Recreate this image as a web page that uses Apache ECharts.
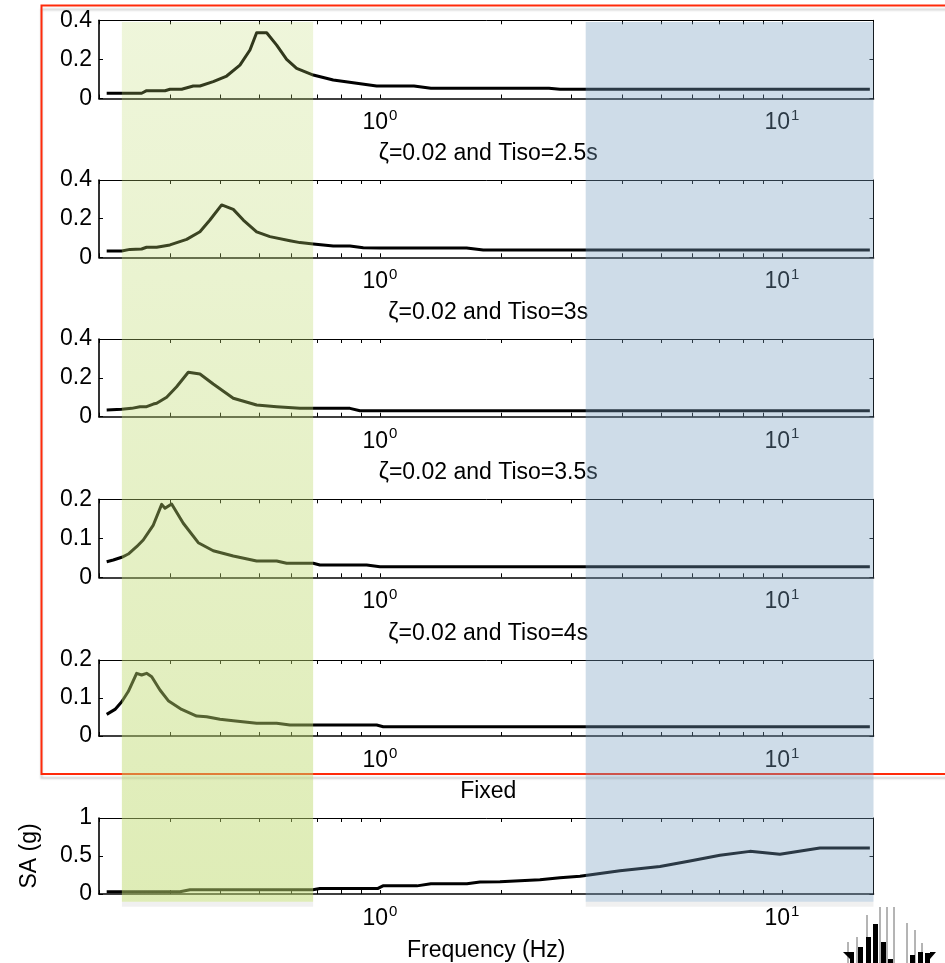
<!DOCTYPE html>
<html>
<head>
<meta charset="utf-8">
<script src="https://cdn.jsdelivr.net/npm/echarts@6/dist/echarts.min.js"></script>
<style>
  html, body { margin: 0; padding: 0; background: #ffffff; }
  #chart { width: 945px; height: 963px; }
</style>
</head>
<body>
<div id="chart"></div>
<script>
// Spectral acceleration (g) versus frequency (Hz), one series per isolation period
const freqTiso2 = [0.209, 0.2553, 0.2627, 0.2919, 0.3003, 0.3211, 0.3432, 0.3566, 0.3848, 0.4156, 0.4484, 0.4749, 0.4934, 0.5226, 0.5534, 0.5859, 0.6205, 0.6825, 0.7652, 0.9813, 1.215, 1.339, 2.633, 2.804, 16.55];
const saTiso2   = [0.027, 0.027, 0.040, 0.040, 0.047, 0.047, 0.064, 0.064, 0.086, 0.115, 0.171, 0.248, 0.336, 0.336, 0.273, 0.200, 0.154, 0.120, 0.095, 0.064, 0.064, 0.052, 0.052, 0.047, 0.047];

const freqTiso25 = [0.209, 0.2278, 0.2388, 0.2553, 0.2627, 0.2783, 0.3003, 0.3304, 0.3566, 0.3776, 0.4038, 0.4316, 0.4571, 0.4934, 0.5325, 0.5971, 0.6324, 0.6825, 0.7652, 0.8422, 0.9089, 1.0, 1.643, 1.807, 16.55];
const saTiso25   = [0.033, 0.033, 0.041, 0.043, 0.052, 0.052, 0.064, 0.093, 0.132, 0.193, 0.271, 0.248, 0.193, 0.132, 0.107, 0.086, 0.076, 0.069, 0.058, 0.058, 0.050, 0.048, 0.048, 0.038, 0.038];

const freqTiso3 = [0.209, 0.2278, 0.2411, 0.2529, 0.2627, 0.2730, 0.2783, 0.2947, 0.3120, 0.3335, 0.3566, 0.3848, 0.4316, 0.4934, 0.5534, 0.6324, 0.8422, 0.8917, 16.55];
const saTiso3   = [0.0345, 0.038, 0.043, 0.0515, 0.0515, 0.065, 0.069, 0.100, 0.154, 0.229, 0.220, 0.168, 0.095, 0.060, 0.0515, 0.043, 0.043, 0.031, 0.031];

const freqTiso35 = [0.209, 0.2171, 0.2278, 0.2365, 0.2481, 0.2577, 0.2730, 0.2864, 0.2919, 0.3032, 0.3241, 0.3532, 0.3848, 0.4316, 0.4934, 0.5534, 0.5859, 0.6825, 0.7090, 0.9267, 1.0, 16.55];
const saTiso35   = [0.040, 0.0444, 0.0513, 0.0597, 0.0785, 0.0956, 0.134, 0.187, 0.177, 0.188, 0.1385, 0.0887, 0.068, 0.0546, 0.0418, 0.0418, 0.0359, 0.0359, 0.0315, 0.0315, 0.0272, 0.0272];

const freqTiso4 = [0.209, 0.2192, 0.2278, 0.2365, 0.2481, 0.2553, 0.2627, 0.2705, 0.2836, 0.2974, 0.3211, 0.3499, 0.3705, 0.3999, 0.4316, 0.4934, 0.5534, 0.5971, 0.9813, 1.019, 16.55];
const saTiso4   = [0.057, 0.070, 0.090, 0.117, 0.165, 0.1605, 0.165, 0.156, 0.121, 0.093, 0.070, 0.0526, 0.0508, 0.044, 0.040, 0.0334, 0.0334, 0.029, 0.029, 0.0245, 0.0245];

const freqFixed = [0.209, 0.318, 0.3368, 0.6813, 0.709, 0.9886, 1.0173, 1.236, 1.339, 1.646, 1.773, 1.989, 2.230, 2.500, 2.804, 3.145, 3.955, 4.973, 5.904, 7.013, 8.326, 9.886, 12.43, 16.55];
const saFixed   = [0.030, 0.030, 0.056, 0.056, 0.073, 0.073, 0.107, 0.107, 0.136, 0.136, 0.158, 0.162, 0.175, 0.1875, 0.213, 0.235, 0.306, 0.362, 0.434, 0.510, 0.561, 0.523, 0.605, 0.605];

const panelTitles = ['', 'ζ=0.02 and Tiso=2.5s', 'ζ=0.02 and Tiso=3s', 'ζ=0.02 and Tiso=3.5s', 'ζ=0.02 and Tiso=4s', 'Fixed'];
const yMaxes = [0.4, 0.4, 0.4, 0.2, 0.2, 1];
const yIntervals = [0.2, 0.2, 0.2, 0.1, 0.1, 0.5];

// Frequency axis: range, labelled decades and minor tick positions
const freqMin = 0.2;
const freqMax = 16.9;
const freqLabelValues = [1, 10];
const freqTickValues = [0.2, 0.3, 0.4, 0.5, 0.6, 0.7, 0.8, 0.9, 1, 2, 3, 4, 5, 6, 7, 8, 9, 10];

// Shaded frequency ranges
const lowBand = [0.228, 0.682];
const highBand = [3.25, 16.9];

const seriesFreq = [freqTiso2, freqTiso25, freqTiso3, freqTiso35, freqTiso4, freqFixed];
const seriesSA = [saTiso2, saTiso25, saTiso3, saTiso35, saTiso4, saFixed];

// ---- layout ----
const FONT = "'Liberation Sans', Arial, Helvetica, sans-serif";
const FS = 23;
const plotLeft = 99;
const plotWidth = 774.5;
const panelTops = [20.3, 180, 339, 499.3, 660, 818];
const panelBottoms = [98.5, 257.3, 416.7, 577.3, 736, 896.7];

const grids = [];
const xAxes = [];
const yAxes = [];
const series = [];
const titles = [];

function freqAxis(gridIndex, position, withLabels, extra) {
  return Object.assign({
    type: 'log',
    logBase: 10,
    gridIndex: gridIndex,
    position: position,
    min: freqMin,
    max: freqMax,
    axisLine: { show: true, onZero: false, lineStyle: { color: '#000', width: position === 'bottom' ? 1.6 : 1 } },
    axisTick: { show: true, inside: true, length: 4, customValues: freqTickValues, lineStyle: { color: '#000', width: 1 } },
    minorTick: { show: false },
    splitLine: { show: false },
    axisLabel: {
      show: withLabels,
      customValues: freqLabelValues,
      margin: 10,
      formatter: function (v) { return '{b|10}{s|' + Math.round(Math.log10(v)) + '}'; },
      rich: {
        b: { fontSize: FS, fontFamily: FONT, color: '#000', verticalAlign: 'bottom' },
        s: { fontSize: 15, fontFamily: FONT, color: '#000', verticalAlign: 'bottom', padding: [0, 0, 11, 1] }
      }
    }
  }, extra || {});
}

function saAxis(gridIndex, i, position, withLabels, extra) {
  return Object.assign({
    type: 'value',
    gridIndex: gridIndex,
    position: position,
    min: 0,
    max: yMaxes[i],
    interval: yIntervals[i],
    axisLine: { show: true, onZero: false, lineStyle: { color: '#000', width: position === 'left' ? 1.6 : 1 } },
    axisTick: { show: true, inside: true, length: 4, lineStyle: { color: '#000', width: 1 } },
    splitLine: { show: false },
    axisLabel: {
      show: withLabels,
      margin: 7,
      fontSize: FS,
      fontFamily: FONT,
      color: '#000',
      formatter: function (v) { return String(+v.toFixed(2)); }
    }
  }, extra || {});
}

for (let i = 0; i < 6; i++) {
  grids.push({ left: plotLeft, width: plotWidth, top: panelTops[i], height: panelBottoms[i] - panelTops[i] });
  const isLast = i === 5;
  xAxes.push(freqAxis(i, 'bottom', true, isLast ? {
    name: 'Frequency (Hz)', nameLocation: 'middle', nameGap: 45,
    nameTextStyle: { fontSize: FS, fontFamily: FONT, color: '#000' }
  } : {}));
  xAxes.push(freqAxis(i, 'top', false));
  yAxes.push(saAxis(i, i, 'left', true, isLast ? {
    name: 'SA (g)', nameLocation: 'middle', nameGap: 58, nameRotate: 90,
    nameTextStyle: { fontSize: FS, fontFamily: FONT, color: '#000' }
  } : {}));
  yAxes.push(saAxis(i, i, 'right', false));

  series.push({
    type: 'line',
    xAxisIndex: 2 * i,
    yAxisIndex: 2 * i,
    data: seriesFreq[i].map(function (f, k) { return [f, seriesSA[i][k]]; }),
    showSymbol: false,
    symbol: 'none',
    lineStyle: { color: '#000', width: 3, join: 'round' },
    z: 3,
    silent: true
  });

  if (panelTitles[i]) {
    titles.push({
      text: panelTitles[i],
      left: plotLeft + plotWidth / 2 - 3,
      textAlign: 'center',
      top: panelTops[i] - 43,
      textStyle: { fontSize: FS, fontWeight: 'normal', fontFamily: FONT, color: '#000' }
    });
  }
}

// Overlay grid carrying the two shaded frequency ranges across all panels
const bandGrid = grids.length;
grids.push({ left: plotLeft, width: plotWidth, top: 22, height: 879.7 });
xAxes.push({ type: 'log', logBase: 10, gridIndex: bandGrid, min: freqMin, max: freqMax, show: false });
yAxes.push({ type: 'value', gridIndex: bandGrid, min: 0, max: 1, show: false });
series.push({
  type: 'line',
  xAxisIndex: xAxes.length - 1,
  yAxisIndex: yAxes.length - 1,
  data: [],
  silent: true,
  z: 20,
  markArea: {
    silent: true,
    z: 30,
    data: [
      [{ xAxis: lowBand[0], itemStyle: { color: {
          type: 'linear', x: 0, y: 0, x2: 0, y2: 1,
          colorStops: [
            { offset: 0, color: 'rgba(190,218,110,0.25)' },
            { offset: 1, color: 'rgba(190,218,110,0.5)' }
          ] } } },
       { xAxis: lowBand[1] }],
      [{ xAxis: highBand[0], itemStyle: { color: 'rgba(118,158,190,0.36)' } },
       { xAxis: highBand[1] }]
    ]
  }
});

// Thin soft edge under the shaded ranges
const edgeGrid = grids.length;
grids.push({ left: plotLeft, width: plotWidth, top: 901.7, height: 5 });
xAxes.push({ type: 'log', logBase: 10, gridIndex: edgeGrid, min: freqMin, max: freqMax, show: false });
yAxes.push({ type: 'value', gridIndex: edgeGrid, min: 0, max: 1, show: false });
series.push({
  type: 'line',
  xAxisIndex: xAxes.length - 1,
  yAxisIndex: yAxes.length - 1,
  data: [],
  silent: true,
  z: 20,
  markArea: {
    silent: true,
    z: 30,
    itemStyle: { color: 'rgba(0,0,0,0.06)' },
    data: [
      [{ xAxis: lowBand[0] }, { xAxis: lowBand[1] }],
      [{ xAxis: highBand[0] }, { xAxis: highBand[1] }]
    ]
  }
});

// Small bar-glyph logo in the lower right corner
const logo = [];
const logoStems = [[848, 942], [857, 937], [867, 915], [880, 907], [887, 907], [894, 907], [907, 923], [915, 930], [922, 943]];
logoStems.forEach(function (s) {
  logo.push({ type: 'line', shape: { x1: s[0], y1: s[1], x2: s[0], y2: 963 }, style: { stroke: '#6a6a6a', lineWidth: 1 }, silent: true });
});
const logoBars = [[850, 952, 4], [858, 947, 5], [866, 937, 5], [873, 924, 5], [881, 942, 5], [888, 959, 5], [910, 955, 5], [918, 952, 5], [925, 953, 5]];
logoBars.forEach(function (b) {
  logo.push({ type: 'rect', shape: { x: b[0], y: b[1], width: b[2], height: 963 - b[1] }, style: { fill: '#000' }, silent: true });
});
logo.push({ type: 'polygon', shape: { points: [[843, 952], [850, 952], [850, 959]] }, style: { fill: '#000' }, silent: true });
logo.push({ type: 'polygon', shape: { points: [[930, 952], [936, 952], [930, 959]] }, style: { fill: '#000' }, silent: true });

const chart = echarts.init(document.getElementById('chart'), null, { renderer: 'canvas' });
chart.setOption({
  backgroundColor: '#ffffff',
  animation: false,
  title: titles,
  grid: grids,
  xAxis: xAxes,
  yAxis: yAxes,
  series: series,
  graphic: [
    {
      // highlight frame around the isolated-system panels
      type: 'rect',
      z: 1,
      silent: true,
      shape: { x: 41.5, y: 5.5, width: 960, height: 768.5 },
      style: { fill: 'none', stroke: '#ff2a0a', lineWidth: 2, shadowColor: 'rgba(0,0,0,0.18)', shadowBlur: 2, shadowOffsetY: 4 }
    },
    { type: 'group', children: logo }
  ]
});
</script>
</body>
</html>
